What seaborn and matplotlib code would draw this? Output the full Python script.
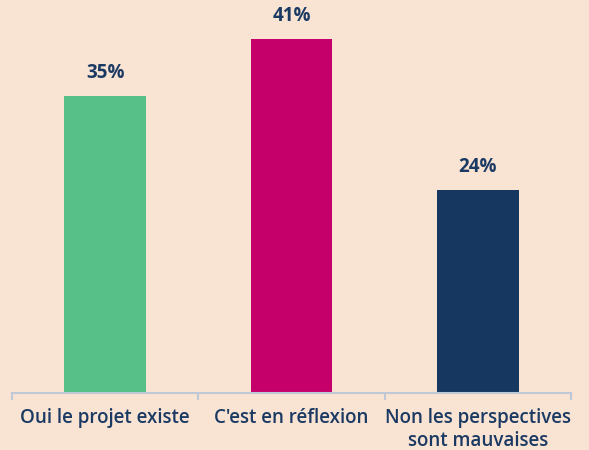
import matplotlib
matplotlib.use("Agg")
import matplotlib.pyplot as plt
import seaborn as sns
import pandas as pd
from matplotlib.ticker import FixedLocator

categories = ["Oui le projet existe", "C'est en réflexion", "Non les perspectives\nsont mauvaises"]
values = [34.8, 41.5, 23.8]
value_labels = ["35%", "41%", "24%"]
colors = ["#57BF88", "#C5006B", "#163760"]

bg = "#F9E3D3"
navy = "#1B3A63"

df = pd.DataFrame({"cat": categories, "val": values})

sns.set_theme(style="white")
plt.rcParams["font.family"] = ["Open Sans", "DejaVu Sans"]

fig = plt.figure(figsize=(5.89, 4.5), dpi=100, facecolor=bg)
ax = fig.add_axes([12 / 589, 1 - 393 / 450, 559 / 589, 393 / 450])
ax.set_facecolor(bg)

sns.barplot(data=df, x="cat", y="val", hue="cat", palette=colors, width=0.44,
            legend=False, ax=ax, saturation=1, linewidth=0)

ax.set_xlim(-0.5, 2.5)
ax.set_ylim(0, 393 / 8.53)

for i, v in enumerate(values):
    ax.text(i, v + 1.5, value_labels[i], ha="center", va="bottom", fontsize=13.5,
            fontweight="bold", color=navy)

for s in ["top", "right", "left"]:
    ax.spines[s].set_visible(False)
ax.spines["bottom"].set_color("#BFC8D6")
ax.spines["bottom"].set_linewidth(1.5)

ax.set_yticks([])
ax.set_xlabel("")
ax.set_ylabel("")
ax.set_xticks(range(3))
ax.set_xticklabels(categories, fontsize=13.5, fontweight="semibold", color=navy, linespacing=1.2)
ax.tick_params(axis="x", which="major", length=0, pad=11)
ax.xaxis.set_minor_locator(FixedLocator([-0.5, 0.5, 1.5, 2.5]))
ax.tick_params(axis="x", which="minor", bottom=True, length=5, width=1.5, color="#BFC8D6")

fig.savefig("out.png", dpi=100, facecolor=bg)
